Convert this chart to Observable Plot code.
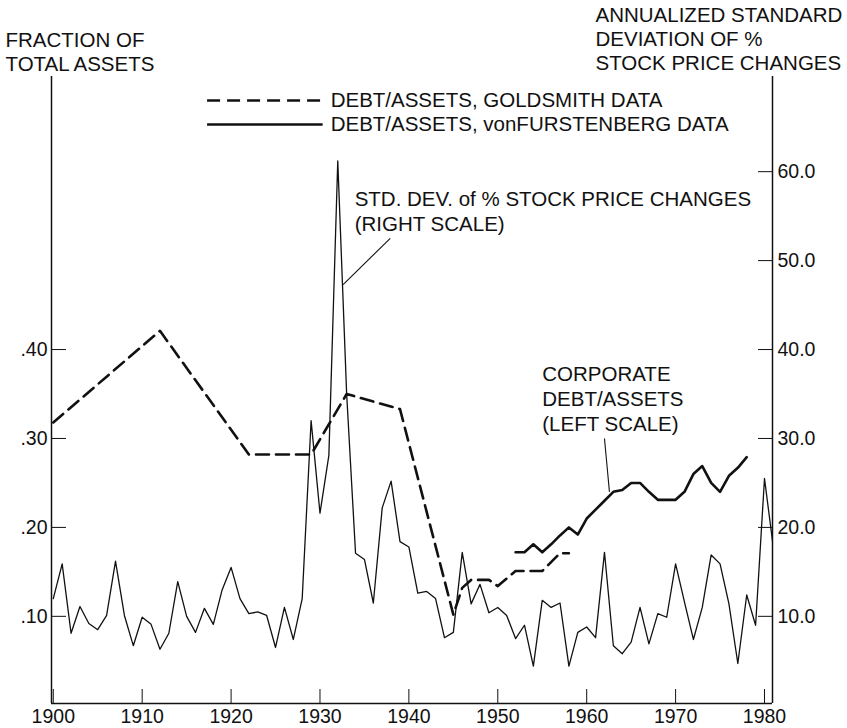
<!DOCTYPE html>
<html><head><meta charset="utf-8">
<script src="https://cdn.jsdelivr.net/npm/d3@7"></script>
<script src="https://cdn.jsdelivr.net/npm/@observablehq/plot@0.6"></script>
<style>body{margin:0;background:#fff} svg{display:block}</style>
</head><body><div id="chart"></div>
<script>
// Annualized std. dev. of % stock price changes (right scale), 1900-1981
const stdStartYear = 1900;
const stdValues = [
  12.0,15.9,8.1,11.1,9.2,8.5,10.1,16.2,10.1,6.7,
  9.9,9.1,6.3,8.1,13.9,10.0,8.2,10.9,9.1,13.0,
  15.5,12.0,10.3,10.5,10.1,6.5,11.0,7.4,12.0,32.0,
  21.6,28.1,61.2,35.0,17.1,16.4,11.5,22.2,25.2,18.4,
  17.8,12.6,12.8,12.0,7.6,8.2,17.2,11.4,13.6,10.4,
  11.0,10.1,7.5,9.0,4.4,11.8,11.0,11.5,4.4,8.2,
  8.8,7.6,17.2,6.7,5.8,7.1,11.0,6.9,10.3,9.9,
  15.9,11.6,7.4,11.0,16.9,15.9,11.4,4.7,12.4,9.0,
  25.5,17.7
];
// Debt/assets, Goldsmith data (left scale, fraction)
const goldYears  = [1900,1912,1922,1929,1933,1939,1945,1946,1947,1949,1950,1952,1955,1957,1958];
const goldValues = [.318,.421,.282,.282,.350,.333,.102,.132,.141,.141,.134,.151,.151,.171,.171];
// Debt/assets, von Furstenberg data (left scale, fraction)
const vfYears  = [1952,1953,1954,1955,1956,1957,1958,1959,1960,1961,1962,1963,1964,1965,1966,1967,1968,1969,1970,1971,1972,1973,1974,1975,1976,1977,1978];
const vfValues = [.172,.172,.181,.172,.181,.191,.200,.192,.210,.220,.230,.240,.242,.250,.250,.240,.231,.231,.231,.240,.260,.269,.250,.240,.258,.267,.279];
// Axis ticks
const xTicks = [1900,1910,1920,1930,1940,1950,1960,1970,1980];
const leftTicks = [.10,.20,.30,.40];
const rightTicks = [10,20,30,40,50,60];

const stdData = stdValues.map((v,i)=>({year: stdStartYear+i, v}));
const goldData = goldYears.map((year,i)=>({year, v: goldValues[i]*100}));
const vfData = vfYears.map((year,i)=>({year, v: vfValues[i]*100}));

const font = "'Liberation Sans', Arial, Helvetica, sans-serif";
const ink = "#111";
const xDomain = [1899.8, 1980.9];
const yDomain = [0.2, 70.7];

const chart = Plot.plot({
  width: 847, height: 728,
  marginLeft: 51, marginRight: 75, marginTop: 76, marginBottom: 25,
  style: {fontFamily: font, color: ink, background: "#fff", overflow: "visible"},
  x: {domain: xDomain},
  y: {domain: yDomain},
  marks: [
    Plot.ruleX(xDomain, {stroke: ink, strokeWidth: 1.5}),
    Plot.ruleY([yDomain[0]], {stroke: ink, strokeWidth: 1.5}),
    Plot.axisX({ticks: xTicks, tickFormat: d => String(d), tickSize: -14, tickPadding: 20, fontSize: 19.5, fontFamily: font, label: null, stroke: ink}),
    Plot.axisY({anchor: "left", ticks: leftTicks.map(d => d*100), tickFormat: d => "." + d3.format("02d")(Math.round(d)), tickSize: -15, tickPadding: 19, fontSize: 19.5, fontFamily: font, label: null}),
    Plot.axisY({anchor: "right", ticks: rightTicks, tickFormat: d => d.toFixed(1), tickSize: -15, tickPadding: 20, fontSize: 19.5, fontFamily: font, label: null}),
    Plot.line(stdData, {x: "year", y: "v", stroke: ink, strokeWidth: 1.3, clip: true}),
    Plot.line(goldData, {x: "year", y: "v", stroke: ink, strokeWidth: 2.6, strokeDasharray: "13,7"}),
    Plot.line(vfData, {x: "year", y: "v", stroke: ink, strokeWidth: 2.6}),
    // legend
    Plot.link([{x1: 1917.3, x2: 1930.3, y: 68.0}], {x1: "x1", x2: "x2", y1: "y", y2: "y", stroke: ink, strokeWidth: 2.4, strokeDasharray: "13,7"}),
    Plot.link([{x1: 1917.3, x2: 1930.3, y: 65.3}], {x1: "x1", x2: "x2", y1: "y", y2: "y", stroke: ink, strokeWidth: 2.4}),
    Plot.text([{x: 1931.2, y: 68.0, t: "DEBT/ASSETS, GOLDSMITH DATA"}, {x: 1931.2, y: 65.3, t: "DEBT/ASSETS, vonFURSTENBERG DATA"}],
      {x: "x", y: "y", text: "t", textAnchor: "start", lineAnchor: "middle", fontSize: 20.5, fontFamily: font, fill: ink}),
    // annotations
    Plot.text([{x: 1933.9, y: 55.6, t: "STD. DEV. of % STOCK PRICE CHANGES\n(RIGHT SCALE)"}],
      {x: "x", y: "y", text: "t", textAnchor: "start", lineAnchor: "middle", lineHeight: 1.22, fontSize: 20.5, fontFamily: font, fill: ink}),
    Plot.link([{x1: 1937.9, y1: 52.5, x2: 1932.6, y2: 47.3}], {x1: "x1", y1: "y1", x2: "x2", y2: "y2", stroke: ink, strokeWidth: 1.1}),
    Plot.text([{x: 1955.0, y: 34.6, t: "CORPORATE\nDEBT/ASSETS\n(LEFT SCALE)"}],
      {x: "x", y: "y", text: "t", textAnchor: "start", lineAnchor: "middle", lineHeight: 1.22, fontSize: 20.5, fontFamily: font, fill: ink}),
    Plot.link([{x1: 1962.0, y1: 30.0, x2: 1962.56, y2: 24.0}], {x1: "x1", y1: "y1", x2: "x2", y2: "y2", stroke: ink, strokeWidth: 1.1}),
    // axis titles
    Plot.text(["FRACTION OF\nTOTAL ASSETS"], {frameAnchor: "top-left", textAnchor: "start", lineAnchor: "middle", dx: -46, dy: -25, lineHeight: 1.15, fontSize: 20.5, fontFamily: font, fill: ink}),
    Plot.text(["ANNUALIZED STANDARD\nDEVIATION OF %\nSTOCK PRICE CHANGES"], {frameAnchor: "top-right", textAnchor: "start", lineAnchor: "middle", dx: -177, dy: -38, lineHeight: 1.18, fontSize: 20.5, fontFamily: font, fill: ink})
  ]
});
document.getElementById("chart").appendChild(chart);
</script>
</body></html>
